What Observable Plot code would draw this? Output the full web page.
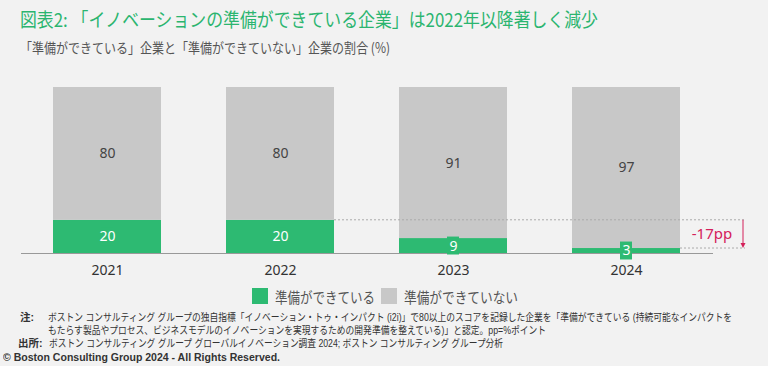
<!DOCTYPE html>
<html>
<head>
<meta charset="utf-8">
<script src="https://cdn.jsdelivr.net/npm/d3@7"></script>
<script src="https://cdn.jsdelivr.net/npm/@observablehq/plot@0.6"></script>
<style>
  html, body { margin: 0; padding: 0; background: #f2f2f2; }
  body { width: 768px; height: 366px; position: relative; overflow: hidden;
         font-family: "Noto Sans CJK JP", "Noto Sans", sans-serif; }
  .abs { position: absolute; white-space: nowrap; transform-origin: 0 50%; }
  #title { left: 20px; top: 8px; font-size: 19px; line-height: 22px; color: #2bb56f; }
  #subtitle { left: 20px; top: 37px; font-size: 14px; line-height: 20px; color: #555; }
  #chart { position: absolute; left: 0; top: 60px; }
  #legend { position: absolute; top: 287px; left: 252px; height: 18px; display: flex; align-items: center; font-size: 15px; color: #555; }
  #legend .sw { width: 16px; height: 16px; margin-right: 7px; flex: none; }
  #legend .item { display: flex; align-items: center; margin-right: 6px; }
  #legend .lab { display: inline-block; white-space: nowrap; overflow: visible; }
  #legend .lab span { display: inline-block; transform-origin: 0 50%; }
  .foot { font-family: "Liberation Sans", "Noto Sans CJK JP", sans-serif; font-size: 10.5px; line-height: 13px; color: #333; }
  .b { font-weight: bold; }
  #copy { left: 3px; top: 350px; font-family: "Liberation Sans", Arial, sans-serif; font-weight: bold; font-size: 11px; line-height: 14px; color: #333; }
</style>
</head>
<body>
<div id="title" class="abs"></div>
<div id="subtitle" class="abs"></div>
<div id="chart"></div>
<div id="legend"></div>
<div id="n1l" class="abs foot b" style="left:20px;top:311px;">注:</div>
<div id="n1" class="abs foot" style="left:48px;top:311px;"></div>
<div id="n2" class="abs foot" style="left:48px;top:324px;"></div>
<div id="n3l" class="abs foot b" style="left:18px;top:337px;">出所:</div>
<div id="n3" class="abs foot" style="left:49px;top:337px;"></div>
<div id="copy" class="abs"></div>
<script>
// ---- data ----
const years = ["2021", "2022", "2023", "2024"];
const ready = [20, 20, 9, 3];
const notReady = [80, 80, 91, 97];
const seriesNames = ["準備ができている", "準備ができていない"];
const seriesColors = ["#2dba72", "#c8c8c8"];
const changeLabel = "-17pp";
const titleText = "図表2: 「イノベーションの準備ができている企業」は2022年以降著しく減少";
const subtitleText = "「準備ができている」企業と「準備ができていない」企業の割合 (%)";
const noteLines = [
  "ボストン コンサルティング グループの独自指標「イノベーション・トゥ・インパクト (i2i)」で80以上のスコアを記録した企業を「準備ができている (持続可能なインパクトを",
  "もたらす製品やプロセス、ビジネスモデルのイノベーションを実現するための開発準備を整えている)」と認定。pp=%ポイント"
];
const sourceText = "ボストン コンサルティング グループ グローバルイノベーション調査 2024; ボストン コンサルティング グループ分析";
const copyrightText = "© Boston Consulting Group 2024 - All Rights Reserved.";

document.getElementById("title").textContent = titleText;
document.getElementById("subtitle").textContent = subtitleText;
document.getElementById("n1").textContent = noteLines[0];
document.getElementById("n2").textContent = noteLines[1];
document.getElementById("n3").textContent = sourceText;
document.getElementById("copy").textContent = copyrightText;

// condense text horizontally so it spans the same width as in the reference
function fitTo(el, width) {
  const w = el.getBoundingClientRect().width;
  if (w > 0) el.style.transform = `scaleX(${width / w})`;
}
fitTo(document.getElementById("title"), 578);
fitTo(document.getElementById("subtitle"), 370);
fitTo(document.getElementById("n1"), 684);
fitTo(document.getElementById("n2"), 498);
fitTo(document.getElementById("n3"), 454);
fitTo(document.getElementById("copy"), 277);

// ---- table ----
const rows = [];
years.forEach((y, i) => {
  rows.push({year: y, series: seriesNames[0], y1: 0, y2: ready[i], mid: ready[i] / 2, value: ready[i]});
  rows.push({year: y, series: seriesNames[1], y1: ready[i], y2: ready[i] + notReady[i], mid: ready[i] + notReady[i] / 2, value: notReady[i]});
});
const readyRows = rows.filter(d => d.series === seriesNames[0]);
const notRows = rows.filter(d => d.series === seriesNames[1]);

const green = seriesColors[0];
const badgeHalf = 5.4; // half-height of the label badge in % units

const plot = Plot.plot({
  width: 768,
  height: 230,
  marginTop: 27,
  marginBottom: 37,
  marginLeft: 21,
  marginRight: 55,
  style: {background: "transparent", fontSize: "14px", fontFamily: "'Noto Sans', sans-serif", color: "#333"},
  x: {domain: years, paddingInner: 0.374, paddingOuter: 0.178, tickSize: 0, tickPadding: 12, label: null},
  y: {domain: [0, 100], axis: null},
  color: {domain: seriesNames, range: seriesColors},
  marks: [
    Plot.barY(rows, {x: "year", y1: "y1", y2: "y2", fill: "series"}),
    Plot.ruleY([0], {stroke: "#999", strokeWidth: 1}),
    Plot.barY(readyRows, {x: "year", y1: d => d.mid - badgeHalf, y2: d => d.mid + badgeHalf, fill: green, insetLeft: 48, insetRight: 48}),
    Plot.text(readyRows, {x: "year", y: "mid", text: "value", fill: "white", fontSize: 14}),
    Plot.text(notRows, {x: "year", y: "mid", text: "value", fill: "#444", fontSize: 14})
  ]
});
document.getElementById("chart").appendChild(plot);

// ---- annotation (change from 2022 to 2024), positioned through Plot's scales ----
const xs = plot.scale("x"), ys = plot.scale("y");
const xAt = v => xs.apply(v);
const yAt = v => ys.apply(v);
const bw = xs.bandwidth;
const yTop = yAt(ready[1]);
const yBot = yAt(ready[3]);
const xEnd = 768 - 55 + 32;
const svg = d3.select(plot);
const ann = svg.append("g");
const dash = "2,2";
ann.append("line").attr("x1", xAt(years[1]) + bw).attr("x2", xEnd).attr("y1", yTop).attr("y2", yTop)
  .attr("stroke", "#aaa").attr("stroke-dasharray", dash);
ann.append("line").attr("x1", xAt(years[3]) + bw).attr("x2", xEnd).attr("y1", yBot).attr("y2", yBot)
  .attr("stroke", "#aaa").attr("stroke-dasharray", dash);
const crimson = "#d4205a";
const ax = xEnd - 2;
ann.append("line").attr("x1", ax).attr("x2", ax).attr("y1", yTop).attr("y2", yBot - 4)
  .attr("stroke", crimson).attr("stroke-width", 1);
ann.append("path").attr("d", `M${ax - 2.5},${yBot - 5}L${ax + 2.5},${yBot - 5}L${ax},${yBot}Z`).attr("fill", crimson);
ann.append("text").attr("x", (768 - 55) - 1).attr("y", yAt((ready[1] + ready[3]) / 2))
  .attr("text-anchor", "middle").attr("dy", "0.35em").attr("fill", crimson)
  .attr("font-size", 15).attr("font-family", "'Noto Sans', sans-serif").text(changeLabel);

// ---- legend ----
const legendWidths = [100, 114];
const leg = document.getElementById("legend");
seriesNames.forEach((n, i) => {
  const it = document.createElement("div"); it.className = "item";
  const sw = document.createElement("div"); sw.className = "sw"; sw.style.background = seriesColors[i];
  const lb = document.createElement("div"); lb.className = "lab"; lb.style.width = legendWidths[i] + "px";
  const inner = document.createElement("span"); inner.textContent = n;
  lb.appendChild(inner);
  it.appendChild(sw); it.appendChild(lb); leg.appendChild(it);
  fitTo(inner, legendWidths[i]);
});
</script>
</body>
</html>
